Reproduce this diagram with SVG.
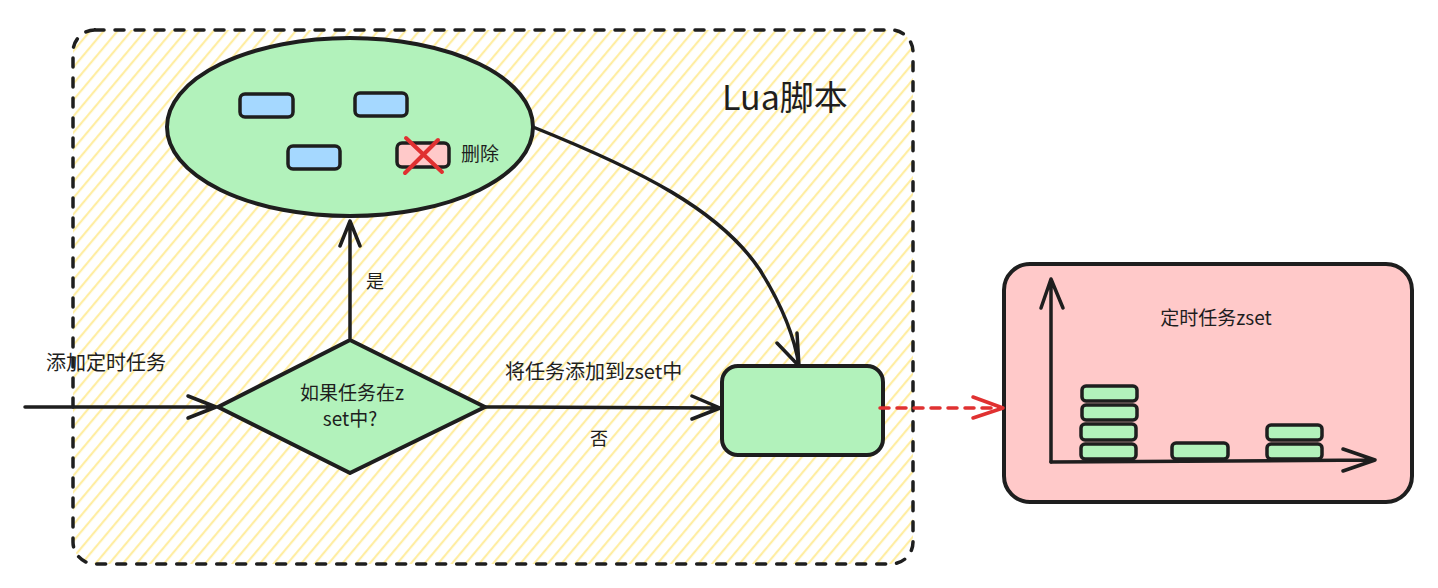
<svg xmlns="http://www.w3.org/2000/svg" width="1438" height="588" viewBox="0 0 1438 588">
<style>
  .t { font-family: "Noto Sans CJK SC", "Liberation Sans", sans-serif; fill: #1e1e1e; }
  .ln { fill: none; stroke: #1e1e1e; stroke-width: 3.5; stroke-linecap: round; stroke-linejoin: round; }
  .shape { stroke: #1e1e1e; stroke-width: 4; stroke-linejoin: round; }
  .blue { fill: #a5d8ff; stroke: #1e1e1e; stroke-width: 3.5; }
  .bar { fill: #b2f2bb; stroke: #1e1e1e; stroke-width: 3.5; }
</style>
<defs>
  <pattern id="hatch" patternUnits="userSpaceOnUse" width="10.5" height="10.5" patternTransform="rotate(40)">
    <line x1="5" y1="0" x2="5" y2="10.5" stroke="#ffec99" stroke-width="2"/>
  </pattern>
</defs>
<rect width="1438" height="588" fill="#ffffff"/>

<g id="container">
  <rect x="73" y="30" width="840" height="534" rx="22" fill="url(#hatch)" stroke="#1e1e1e" stroke-width="3.5" stroke-dasharray="9 11" stroke-linecap="round"/>
  <text class="t" x="722" y="110" font-size="34">Lua脚本</text>
</g>

<g id="ellipse-node">
  <ellipse cx="350" cy="127" rx="183" ry="89" fill="#b2f2bb" class="shape"/>
  <rect class="blue" x="240" y="94" width="53" height="23" rx="5"/>
  <rect class="blue" x="355" y="93" width="52" height="23" rx="5"/>
  <rect class="blue" x="288" y="146" width="52" height="23" rx="5"/>
  <rect x="397" y="143" width="52" height="24" rx="5" fill="#ffc9c9" stroke="#1e1e1e" stroke-width="3.5"/>
  <line x1="406" y1="138" x2="442" y2="172" stroke="#e03131" stroke-width="4" stroke-linecap="round"/>
  <line x1="438" y1="140" x2="405" y2="173" stroke="#e03131" stroke-width="4" stroke-linecap="round"/>
  <text class="t" x="461" y="161" font-size="19">删除</text>
</g>

<g id="diamond-node">
  <path d="M218 407 L350 340 L485 407 L350 473 Z" fill="#b2f2bb" class="shape"/>
  <text class="t" x="352" y="400" font-size="19" text-anchor="middle">如果任务在z</text>
  <text class="t" x="350" y="426" font-size="19" text-anchor="middle">set中?</text>
</g>

<g id="target-node">
  <rect x="722" y="366" width="161" height="89" rx="16" fill="#b2f2bb" class="shape"/>
</g>

<g id="zset-node">
  <rect x="1004" y="264" width="408" height="238" rx="26" fill="#ffc9c9" class="shape"/>
  <text class="t" x="1216" y="325" font-size="19" text-anchor="middle">定时任务zset</text>
  <path class="ln" d="M1051 462 L1051 279 M1041 308 L1051 279 L1063 308"/>
  <path class="ln" d="M1051 462 L1375 460 M1343 449 L1375 460 L1343 471"/>
  <rect class="bar" x="1082" y="386" width="55" height="15" rx="4"/>
  <rect class="bar" x="1082" y="405" width="55" height="15" rx="4"/>
  <rect class="bar" x="1081" y="424" width="55" height="16" rx="4"/>
  <rect class="bar" x="1081" y="444" width="55" height="15" rx="4"/>
  <rect class="bar" x="1172" y="443" width="56" height="16" rx="4"/>
  <rect class="bar" x="1267" y="425" width="55" height="15" rx="4"/>
  <rect class="bar" x="1267" y="444" width="55" height="15" rx="4"/>
</g>

<g id="connectors">
  <path class="ln" d="M25 407 L216 407 M188 396 L216 407 L188 418"/>
  <text class="t" x="46" y="370" font-size="20">添加定时任务</text>

  <path class="ln" d="M350 338 L350 221 M340 246 L350 221 L360 246"/>
  <text class="t" x="366" y="288" font-size="18">是</text>

  <path class="ln" d="M485 407 L720 408 M692 396 L720 408 L692 419"/>
  <text class="t" x="505" y="379" font-size="20">将任务添加到zset中</text>
  <text class="t" x="590" y="445" font-size="18">否</text>

  <path class="ln" d="M533 127 C640 170 720 210 760 270 C785 310 795 340 799 366 M777 343 L799 366 L797 333"/>

  <path d="M880 408 L1000 408" fill="none" stroke="#e03131" stroke-width="3.5" stroke-dasharray="9 8" stroke-linecap="round"/>
  <path d="M973 397 L1003 408 L973 418" fill="none" stroke="#e03131" stroke-width="3.5" stroke-linecap="round" stroke-linejoin="round"/>
</g>
</svg>
